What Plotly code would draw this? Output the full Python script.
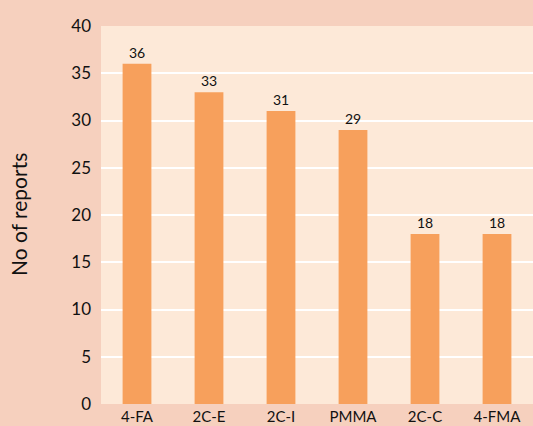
import plotly.graph_objects as go

# Report counts per substance
substances = ["4-FA", "2C-E", "2C-I", "PMMA", "2C-C", "4-FMA"]
reports = [36, 33, 31, 29, 18, 18]
y_ticks = [0, 5, 10, 15, 20, 25, 30, 35, 40]

FONT = "Lato, 'Open Sans', sans-serif"
PAPER = "rgb(246,208,190)"
PLOT = "rgb(253,233,216)"
BAR = "rgb(247,160,92)"

fig = go.Figure(
    go.Bar(
        x=substances,
        y=reports,
        marker=dict(color=BAR, line=dict(width=0)),
        width=0.4,
        text=reports,
        texttemplate="%{text}",
        textposition="outside",
        cliponaxis=False,
        textfont=dict(family=FONT, size=14, color="#111111"),
    )
)

fig.update_layout(
    width=533,
    height=426,
    margin=dict(l=101, r=0, t=26, b=22),
    paper_bgcolor=PAPER,
    plot_bgcolor=PLOT,
    showlegend=False,
    font=dict(family=FONT, color="#111111"),
    bargap=0.6,
    xaxis=dict(
        showgrid=False,
        showline=False,
        zeroline=False,
        tickfont=dict(size=15),
        ticks="",
        ticklabelstandoff=2,
    ),
    yaxis=dict(
        range=[0, 40],
        tickvals=y_ticks,
        showgrid=True,
        gridcolor="white",
        gridwidth=2,
        zeroline=False,
        showline=False,
        tickfont=dict(size=17),
        ticklabelstandoff=9,
    ),
    annotations=[
        dict(
            text="No of reports",
            textangle=-90,
            xref="paper",
            yref="paper",
            x=(18 - 101) / 432,
            y=0.5,
            xanchor="center",
            yanchor="middle",
            showarrow=False,
            font=dict(family=FONT, size=21, color="#111111"),
        )
    ],
)

fig.write_html("out.html")
